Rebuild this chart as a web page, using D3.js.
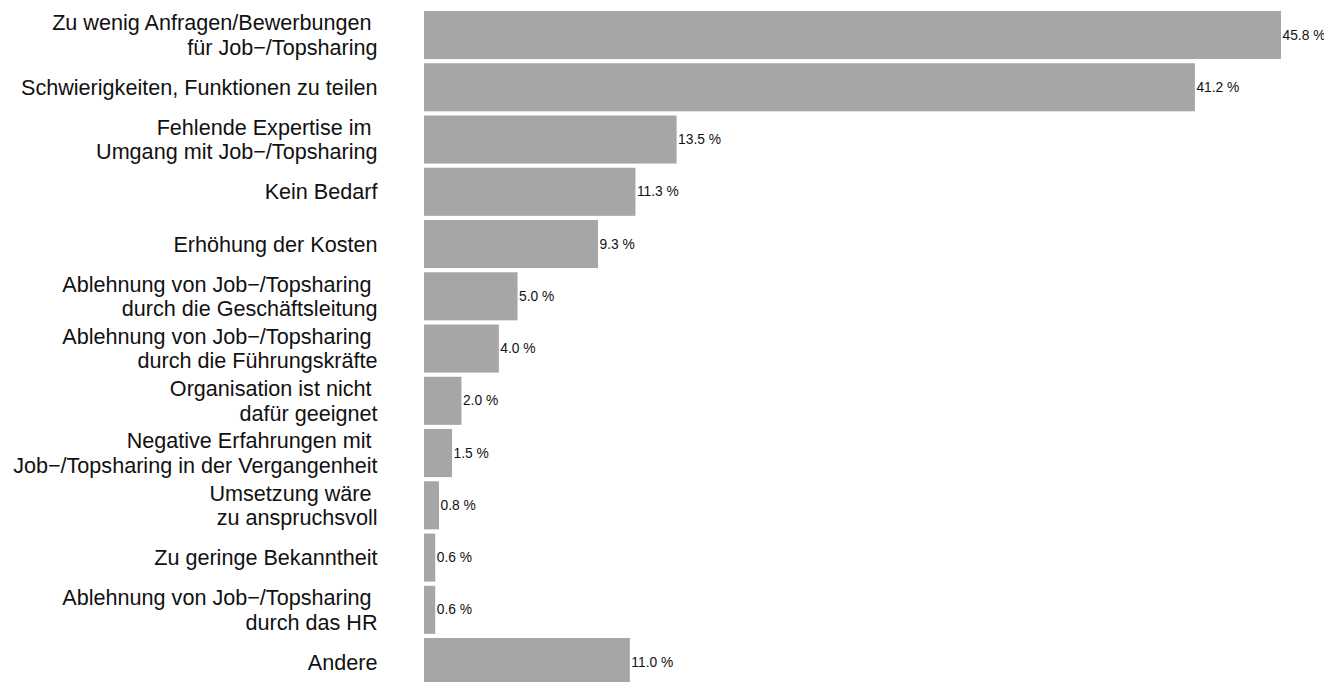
<!DOCTYPE html>
<html>
<head>
<meta charset="utf-8">
<script src="https://cdn.jsdelivr.net/npm/d3@7"></script>
<style>
  html, body { margin: 0; padding: 0; background: #fff; }
  svg { display: block; }
  text { font-family: "Liberation Sans", Arial, Helvetica, sans-serif; white-space: pre; }
</style>
</head>
<body>
<svg id="chart" width="1324" height="682"></svg>
<script>
const categories = [
  ["Zu wenig Anfragen/Bewerbungen ", "für Job−/Topsharing"],
  ["Schwierigkeiten, Funktionen zu teilen"],
  ["Fehlende Expertise im ", "Umgang mit Job−/Topsharing"],
  ["Kein Bedarf"],
  ["Erhöhung der Kosten"],
  ["Ablehnung von Job−/Topsharing ", "durch die Geschäftsleitung"],
  ["Ablehnung von Job−/Topsharing ", "durch die Führungskräfte"],
  ["Organisation ist nicht ", "dafür geeignet"],
  ["Negative Erfahrungen mit ", "Job−/Topsharing in der Vergangenheit"],
  ["Umsetzung wäre ", "zu anspruchsvoll"],
  ["Zu geringe Bekanntheit"],
  ["Ablehnung von Job−/Topsharing ", "durch das HR"],
  ["Andere"]
];
const values = [45.8, 41.2, 13.5, 11.3, 9.3, 5.0, 4.0, 2.0, 1.5, 0.8, 0.6, 0.6, 11.0];
const valueLabels = ["45.8 %", "41.2 %", "13.5 %", "11.3 %", "9.3 %", "5.0 %", "4.0 %", "2.0 %", "1.5 %", "0.8 %", "0.6 %", "0.6 %", "11.0 %"];

const svg = d3.select("#chart");
const idx = d3.range(values.length);

const x = d3.scaleLinear().domain([0, 45.8]).range([424, 1281]);
const y = d3.scaleBand().domain(idx).range([8.9, 688.2]).paddingInner(0.08).paddingOuter(0.04);

svg.append("g").selectAll("rect").data(idx).join("rect")
  .attr("x", x(0))
  .attr("y", i => y(i))
  .attr("width", i => x(values[i]) - x(0))
  .attr("height", y.bandwidth())
  .attr("fill", "#a6a6a6");

svg.append("g").selectAll("text").data(idx).join("text")
  .attr("x", i => x(values[i]) + 1.5)
  .attr("y", i => y(i) + y.bandwidth() / 2)
  .attr("dominant-baseline", "central")
  .attr("font-size", 13.8)
  .attr("fill", "#111")
  .text(i => valueLabels[i]);

const lh = 24.5;
const lab = svg.append("g").selectAll("text").data(idx).join("text")
  .attr("text-anchor", "end")
  .attr("font-size", 21.6)
  .attr("fill", "#111");
lab.each(function(i) {
  const lines = categories[i];
  const c = y(i) + y.bandwidth() / 2;
  const n = lines.length;
  d3.select(this).selectAll("tspan").data(lines).join("tspan")
    .attr("x", 377.5)
    .attr("y", (d, k) => c + (k - (n - 1) / 2) * lh)
    .attr("dominant-baseline", "central")
    .text(d => d);
});
</script>
</body>
</html>
